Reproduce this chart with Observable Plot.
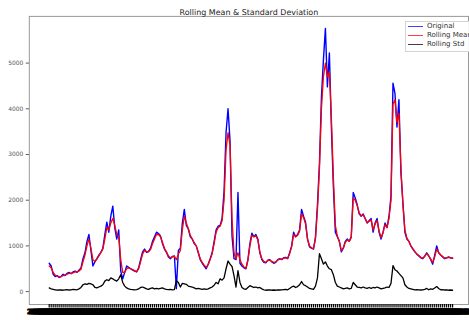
<!DOCTYPE html>
<html><head><meta charset="utf-8">
<script src="https://cdn.jsdelivr.net/npm/d3@7"></script>
<script src="https://cdn.jsdelivr.net/npm/@observablehq/plot@0.6"></script>
<style>
html,body{margin:0;padding:0;background:#fff;overflow:hidden;}
#wrap{position:relative;width:469px;height:320px;overflow:hidden;font-family:"DejaVu Sans",sans-serif;}
#legend{position:absolute;left:405px;top:21px;width:70px;height:31px;border:1px solid #d4d4d4;background:rgba(255,255,255,0.9);box-sizing:border-box;}
.row{position:absolute;left:0;height:9px;font-size:7px;line-height:9px;color:#333;}
.sw{position:absolute;left:2px;top:4px;width:15px;height:1.4px;}
.lab{position:absolute;left:21px;top:0;white-space:nowrap;}
</style></head><body><div id="wrap"><div id="legend"></div></div>
<script>
const original = [
  620,560,380,330,350,310,330,380,350,400,420,390,430,450,420,470,520,
  720,850,1100,1250,900,560,650,720,800,860,950,1250,1520,1300,1650,1870,1400,1150,1350,
  450,280,420,560,530,500,470,450,430,520,700,870,930,860,880,950,1100,1200,1300,1270,1220,1050,930,860,760,720,770,780,
  65,
  900,950,1500,1800,1450,1370,1200,1150,1050,1000,850,700,620,560,500,600,720,850,1100,1350,1430,1450,1600,2200,
  3480,4000,3300,1220,720,700,2170,620,560,520,500,
  700,1050,1280,1200,1250,1150,850,700,640,630,690,700,650,620,640,700,720,700,740,750,720,850,1000,1300,1200,1250,1350,1800,1650,1520,1150,980,950,930,1200,1900,
  2800,4260,5070,5760,4480,5220,3600,2300,1300,1200,1100,870,950,1100,1150,1100,1200,
  2170,2050,1900,1700,1650,1700,1600,1500,1550,1600,1300,1500,1600,1300,1150,1300,1500,1400,1650,2090,
  4560,4340,3600,4200,2600,1950,1300,1150,1100,1000,930,870,820,780,740,720,780,850,780,700,600,800,1000,850,800,760,720,740,760,740,730
];
const rollingMean = [
  560,520,420,360,340,330,330,350,360,380,400,400,410,430,430,450,490,
  650,800,1000,1150,950,700,660,710,780,850,930,1150,1400,1350,1500,1600,1450,1250,1200,
  700,420,420,500,520,500,480,460,440,500,650,820,900,870,870,920,1050,1150,1250,1250,1200,1080,950,870,780,740,760,770,
  700,
  820,900,1350,1650,1500,1380,1230,1150,1070,1000,870,720,640,580,530,590,700,830,1050,1300,1400,1430,1550,2000,
  3100,3480,3200,1600,850,720,850,700,600,540,510,
  680,1000,1230,1200,1220,1130,870,720,660,640,680,690,660,640,650,690,710,710,730,740,730,830,980,1250,1200,1230,1320,1700,1620,1480,1150,1000,960,940,1150,1800,
  2700,4000,4700,5000,4700,4800,3800,2500,1450,1220,1100,900,950,1080,1130,1100,1180,
  2050,2000,1880,1720,1660,1680,1600,1510,1540,1570,1350,1480,1550,1330,1180,1290,1460,1400,1600,2000,
  4100,4200,3700,3900,2700,1900,1350,1170,1100,1000,940,880,820,790,750,730,770,830,780,710,640,760,930,850,800,770,730,740,750,740,730
];
const rollingStd = [
  80,60,50,40,30,40,35,30,40,45,35,40,50,45,40,60,90,
  150,170,160,180,170,150,90,80,100,120,150,230,260,240,300,280,250,230,280,
  370,200,120,80,60,50,45,40,45,60,90,100,80,60,50,70,80,60,70,60,70,80,60,50,45,50,40,45,
  240,200,100,180,170,160,120,110,100,80,60,70,60,50,60,50,60,80,100,140,200,170,280,250,300,
  500,670,600,550,350,100,460,200,90,60,50,
  90,130,110,90,100,80,90,60,40,30,35,40,30,35,30,40,35,40,45,50,40,70,100,120,90,110,150,220,150,130,100,70,60,50,120,300,
  830,720,600,650,560,500,480,370,200,120,100,80,60,70,80,60,70,
  200,150,100,90,80,100,80,70,90,70,90,80,100,80,60,70,80,100,90,180,
  570,480,450,400,350,300,150,100,70,60,50,40,45,40,35,40,50,70,40,60,50,80,110,70,40,45,35,40,30,35,30
];
const startDate = "2014-01-05";
const title = "Rolling Mean & Standard Deviation";
const seriesNames = ["Original", "Rolling Mean", "Rolling Std"];
const seriesColors = ["blue", "red", "black"];
const yTicks = [0, 1000, 2000, 3000, 4000, 5000];

const parse = d3.utcParse("%Y-%m-%d"), fmt = d3.utcFormat("%Y-%m-%d");
const dates = original.map((_, i) => fmt(d3.utcDay.offset(parse(startDate), 7 * i)));
const rows = dates.map((date, i) => ({date, original: original[i], mean: rollingMean[i], std: rollingStd[i]}));

const chart = Plot.plot({
  width: 472, height: 320,
  marginLeft: 29, marginRight: 1, marginTop: 16, marginBottom: 14,
  style: {fontFamily: "DejaVu Sans", background: "white"},
  x: {type: "point", domain: dates, padding: 0, insetLeft: 20, insetRight: 16, label: null},
  y: {domain: [-283, 6022], label: null},
  marks: [
    Plot.frame({stroke: "#999"}),
    Plot.axisY({ticks: yTicks, tickSize: 3, tickPadding: 3, fontSize: 6, color: "#555", label: null, tickFormat: d3.format("d")}),
    Plot.axisX({tickSize: 3.5, tickPadding: 1.2, fontSize: 7, fontWeight: "bold", strokeWidth: 1.2, color: "black",
      textStroke: "black", textStrokeWidth: 0.9, label: null}),
    Plot.lineY(rows, {x: "date", y: "original", stroke: seriesColors[0], strokeWidth: 1.4}),
    Plot.lineY(rows, {x: "date", y: "mean", stroke: seriesColors[1], strokeWidth: 1.3}),
    Plot.lineY(rows, {x: "date", y: "std", stroke: seriesColors[2], strokeWidth: 1.3}),
    Plot.text([title], {frameAnchor: "top", dy: -7, fontSize: 8, fill: "#222"})
  ]
});
const wrap = document.getElementById("wrap");
wrap.insertBefore(chart, wrap.firstChild);

const legend = document.getElementById("legend");
seriesNames.forEach((name, i) => {
  const row = document.createElement("div");
  row.className = "row";
  row.style.top = (0 + 9 * i) + "px";
  row.innerHTML = `<div class="sw" style="background:${seriesColors[i]};opacity:0.75"></div><div class="lab">${name}</div>`;
  legend.appendChild(row);
});
</script></body></html>
